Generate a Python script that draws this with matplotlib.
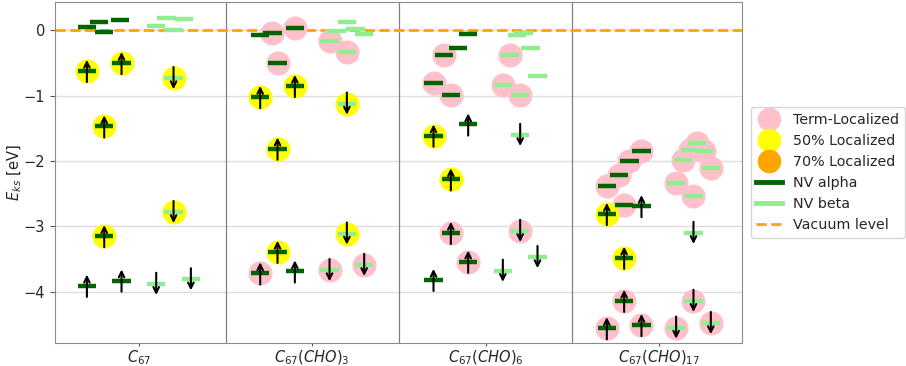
import matplotlib.pyplot as plt
from matplotlib.lines import Line2D

# systems shown on the x axis
systems = ['$C_{67}$', '$C_{67}(CHO)_3$', '$C_{67}(CHO)_6$', '$C_{67}(CHO)_{17}$']

# levels: (place inside panel, E_ks [eV], localization, occupied)
# localization: 'T' term-localized, '50' 50% localized, '70' 70% localized, '' none
c67_alpha = [(0.20, 0.06, '', 0), (0.27, 0.13, '', 0), (0.39, 0.16, '', 0),
             (0.30, -0.02, '', 0), (0.20, -0.62, '50', 1), (0.40, -0.50, '50', 1),
             (0.30, -1.47, '50', 1), (0.30, -3.15, '50', 1), (0.20, -3.91, '', 1),
             (0.40, -3.83, '', 1)]
c67_beta = [(0.60, 0.075, '', 0), (0.66, 0.19, '', 0), (0.76, 0.18, '', 0),
            (0.70, 0.00, '', 0), (0.70, -0.73, '50', 1), (0.70, -2.78, '50', 1),
            (0.60, -3.88, '', 1), (0.80, -3.81, '', 1)]

cho3_alpha = [(0.20, -0.07, '', 0), (0.27, -0.04, 'T', 0), (0.40, 0.03, 'T', 0),
              (0.30, -0.50, 'T', 0), (0.20, -1.02, '50', 1), (0.40, -0.85, '50', 1),
              (0.30, -1.81, '50', 1), (0.30, -3.39, '50', 1), (0.20, -3.72, 'T', 1),
              (0.40, -3.69, '', 1)]
cho3_beta = [(0.70, 0.13, '', 0), (0.64, -0.01, '', 0), (0.75, 0.015, '', 0),
             (0.80, -0.05, '', 0), (0.60, -0.16, 'T', 0), (0.70, -0.33, 'T', 0),
             (0.70, -1.12, '50', 1), (0.70, -3.11, '50', 1), (0.60, -3.67, 'T', 1),
             (0.80, -3.59, 'T', 1)]

cho6_alpha = [(0.40, -0.06, '', 0), (0.34, -0.27, '', 0), (0.26, -0.37, 'T', 0),
              (0.20, -0.81, 'T', 0), (0.30, -0.99, 'T', 0), (0.40, -1.44, '', 1),
              (0.20, -1.61, '50', 1), (0.30, -2.28, '50', 1), (0.30, -3.10, 'T', 1),
              (0.40, -3.54, 'T', 1), (0.20, -3.82, '', 1)]
cho6_beta = [(0.68, -0.07, '', 0), (0.72, -0.04, '', 0), (0.76, -0.27, '', 0),
             (0.64, -0.37, 'T', 0), (0.80, -0.70, '', 0), (0.60, -0.84, 'T', 0),
             (0.70, -0.99, 'T', 0), (0.70, -1.60, '', 1), (0.70, -3.07, 'T', 1),
             (0.80, -3.47, '', 1), (0.60, -3.68, '', 1)]

cho17_alpha = [(0.40, -1.84, 'T', 0), (0.33, -2.00, 'T', 0), (0.27, -2.22, 'T', 0),
               (0.20, -2.38, 'T', 0), (0.30, -2.68, 'T', 0), (0.40, -2.69, '', 1),
               (0.20, -2.81, '50', 1), (0.30, -3.48, '50', 1), (0.30, -4.14, 'T', 1),
               (0.20, -4.56, 'T', 1), (0.40, -4.51, 'T', 1)]
cho17_beta = [(0.72, -1.72, 'T', 0), (0.68, -1.83, 'T', 0), (0.76, -1.84, 'T', 0),
              (0.64, -1.98, 'T', 0), (0.80, -2.10, 'T', 0), (0.60, -2.34, 'T', 0),
              (0.70, -2.53, 'T', 0), (0.70, -3.10, '', 1), (0.70, -4.14, 'T', 1),
              (0.60, -4.55, 'T', 1), (0.80, -4.48, 'T', 1)]

alpha_levels = [c67_alpha, cho3_alpha, cho6_alpha, cho17_alpha]
beta_levels = [c67_beta, cho3_beta, cho6_beta, cho17_beta]

loc_colors = {'T': 'pink', '50': 'yellow', '70': 'orange'}
spin_colors = {'alpha': 'darkgreen', 'beta': 'lightgreen'}

fig = plt.figure(figsize=(9.06, 3.66), dpi=100)
ax = fig.add_axes([55 / 906, 1 - 343.3 / 366, 687 / 906, 341.6 / 366])

txt = '#262626'

def draw_levels(ax, i, levels, spin):
    for x, e, loc, occ in levels:
        xx = i + x
        if loc:
            ax.scatter(xx, e, s=300, color=loc_colors[loc], zorder=2, linewidths=0)
        ax.hlines(e, xx - 0.053, xx + 0.053, color=spin_colors[spin], lw=3.2, zorder=3)
        if occ:
            if spin == 'alpha':
                start, end = e - 0.17, e + 0.17
            else:
                start, end = e + 0.17, e - 0.17
            ax.annotate('', xy=(xx, end), xytext=(xx, start),
                        arrowprops=dict(arrowstyle='->', color='black', lw=1.5,
                                        shrinkA=0, shrinkB=0), zorder=4)

for i in range(len(systems)):
    draw_levels(ax, i, alpha_levels[i], 'alpha')
    draw_levels(ax, i, beta_levels[i], 'beta')

ax.axhline(0, color='orange', ls='--', lw=2, zorder=1.5)
for i in range(1, len(systems)):
    ax.axvline(i, color='gray', lw=0.9, zorder=1)

ax.set_xlim(0.016, 3.98)
ax.set_ylim(-4.79, 0.44)
ax.set_xticks([i + 0.5 for i in range(len(systems))])
ax.set_xticklabels(systems, fontsize=10.5, color=txt)
ax.set_yticks([0, -1, -2, -3, -4])
ax.tick_params(axis='y', labelsize=10.5, colors='#555555', labelcolor=txt)
ax.tick_params(axis='x', length=2, pad=1.5, colors='#555555', labelcolor=txt)
ax.grid(axis='y', color='#dddddd', lw=1, zorder=0)
ax.set_axisbelow(True)
for s in ax.spines.values():
    s.set_color('#8c8c8c')
ax.set_ylabel('$E_{ks}$ [eV]', fontsize=10.5, color=txt, labelpad=-0.5)

handles = [
    Line2D([], [], ls='', marker='o', ms=17, color='pink', markeredgewidth=0),
    Line2D([], [], ls='', marker='o', ms=17, color='yellow', markeredgewidth=0),
    Line2D([], [], ls='', marker='o', ms=17, color='orange', markeredgewidth=0),
    Line2D([], [], color='darkgreen', lw=3.5),
    Line2D([], [], color='lightgreen', lw=3.5),
    Line2D([], [], color='orange', lw=2, ls='--'),
]
labels = ['Term-Localized', '50% Localized', '70% Localized', 'NV alpha', 'NV beta',
          'Vacuum level']
leg = ax.legend(handles, labels, loc='center left', bbox_to_anchor=(1.002, 0.5),
                fontsize=10.3, handlelength=1.8, frameon=True)
for t in leg.get_texts():
    t.set_color(txt)

fig.savefig('out.png', dpi=100)
